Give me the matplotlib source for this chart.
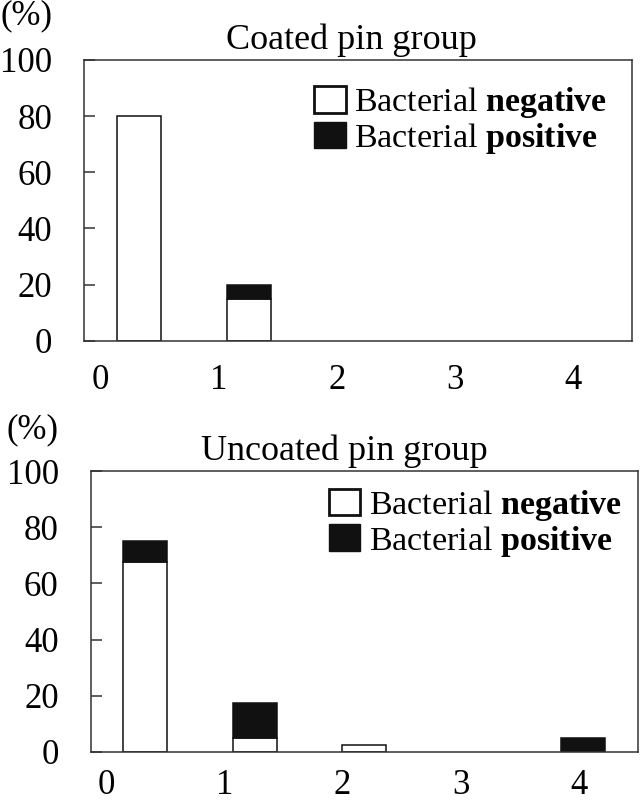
import numpy as np
import matplotlib
matplotlib.use("Agg")
import matplotlib.pyplot as plt
from matplotlib.patches import Patch

plt.rcParams['font.family'] = ['Liberation Serif', 'DejaVu Serif']
plt.rcParams['mathtext.fontset'] = 'custom'
plt.rcParams['mathtext.rm'] = 'Liberation Serif'
plt.rcParams['mathtext.bf'] = 'Liberation Serif:bold'

categories = ['0', '1', '2', '3', '4']
coated_negative = [80, 15, 0, 0, 0]
coated_positive = [0, 5, 0, 0, 0]
uncoated_negative = [67.5, 5, 2.5, 0, 0]
uncoated_positive = [7.5, 12.5, 0, 0, 5]
yticks = [0, 20, 40, 60, 80, 100]
titles = ['Coated pin group', 'Uncoated pin group']
legend_labels = ['Bacterial $\\bf{negative}$', 'Bacterial $\\bf{positive}$']

FS_TICK = 25
FS_TITLE = 26
FS_LEG = 24.5
W, H = 640, 801
fig = plt.figure(figsize=(W / 100, H / 100), dpi=100)

def px_axes(left, top, right, bottom):
    return fig.add_axes([left / W, 1 - bottom / H, (right - left) / W, (bottom - top) / H])

panels = [
    dict(rect=(84.3, 60, 632.3, 340.7), neg=coated_negative, pos=coated_positive,
         title_xy=(351, 49), pct_xy=(26.5, 16), leg=(0.42, 0.91), xpad=17),
    dict(rect=(90.6, 471, 637.7, 752), neg=uncoated_negative, pos=uncoated_positive,
         title_xy=(344, 460), pct_xy=(32.5, 430), leg=(0.436, 0.94), xpad=12),
]

x = np.arange(len(categories))
label_pos = x * 1.079 - 0.355

for p, title in zip(panels, titles):
    ax = px_axes(*p['rect'])
    neg = np.array(p['neg'], dtype=float)
    pos = np.array(p['pos'], dtype=float)
    mn = neg > 0
    mp = pos > 0
    ax.bar(x[mn], neg[mn], width=0.4, color='white', edgecolor='#111111', linewidth=1.1, zorder=2)
    ax.bar(x[mp], pos[mp], width=0.4, bottom=neg[mp], color='#111111', edgecolor='#111111',
           linewidth=1.1, zorder=2)
    ax.set_xlim(-0.5, 4.5)
    ax.set_ylim(0, 100)
    ax.set_yticks(yticks)
    ax.set_yticklabels([str(t) for t in yticks], fontsize=FS_TICK)
    ax.set_xticks(label_pos)
    ax.set_xticklabels(categories, fontsize=FS_TICK)
    ax.tick_params(axis='y', direction='in', length=8, width=1.1, color='#333333', pad=23)
    ax.tick_params(axis='x', length=0, pad=p['xpad'])
    for s in ax.spines.values():
        s.set_linewidth(1.1)
        s.set_color('#333333')
    handles = [Patch(facecolor='white', edgecolor='#111111', linewidth=2.0),
               Patch(facecolor='#111111', edgecolor='#111111', linewidth=1.0)]
    ax.legend(handles, legend_labels, loc='upper left', bbox_to_anchor=p['leg'],
              frameon=False, fontsize=FS_LEG, handlelength=0.92, handleheight=0.82,
              handletextpad=0.25, labelspacing=0.02, borderpad=0, borderaxespad=0)
    tx, ty = p['title_xy']
    fig.text(tx / W, 1 - ty / H, title, fontsize=FS_TITLE, ha='center', va='baseline')
    cx, cy = p['pct_xy']
    fig.text(cx / W, 1 - cy / H, '(%)', fontsize=FS_TICK, ha='center', va='center')

fig.savefig('out.png', dpi=100)
